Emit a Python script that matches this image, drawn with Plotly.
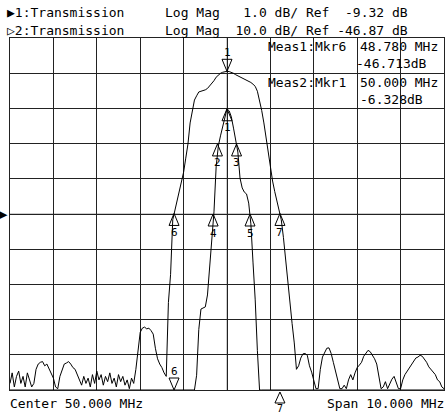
import numpy as np
import plotly.graph_objects as go

# ---------------- instrument settings ----------------
CENTER_MHZ = 50.0
SPAN_MHZ = 10.0
SWEEP_POINTS = 201
DIVS = 10

T1_NAME, T2_NAME = "Transmission", "Transmission"
T1_SCALE, T1_REF = 1.0, -9.32     # dB/div, dB (ref at centre line)
T2_SCALE, T2_REF = 10.0, -46.87

# ---------------- trace 2 (10 dB/div), one value per sweep point ----------------
T2_LEVELS = [
    -95.0, -92.0, -96.0, -93.0, -91.5, -95.0, -93.0, -96.0, -92.0, -94.0,
    -96.0, -95.0, -91.0, -89.5, -89.0, -88.8, -90.0, -89.5, -91.0, -92.0,
    -93.5, -96.0, -96.5, -93.0, -91.0, -89.5, -89.2, -88.8, -89.5, -90.5,
    -91.0, -92.5, -94.0, -95.5, -93.0, -95.0, -93.5, -96.0, -92.5, -95.0,
    -91.5, -94.0, -92.5, -95.5, -93.0, -94.5, -92.0, -95.0, -93.5, -96.0,
    -92.5, -94.5, -93.0, -95.5, -94.0, -96.5, -93.5, -95.0, -91.0, -85.0,
    -80.5, -79.3, -79.0, -79.5, -79.3, -80.0, -81.0, -85.0, -88.0, -89.5,
    -90.5, -92.0, -93.0, -72.0, -64.0, -48.5, -45.8, -43.0, -40.0, -37.8,
    -35.0, -31.0, -27.0, -21.0, -17.8, -14.5, -13.3, -12.2, -12.0, -11.9,
    -11.6, -11.2, -10.5, -9.7, -9.0, -8.0, -7.3, -6.9, -6.6, -6.4,
    -6.33, -6.4, -6.6, -6.9, -7.3, -7.6, -8.1, -8.4, -8.7, -8.9,
    -9.1, -9.5, -10.0, -10.6, -12.0, -14.5, -17.5, -21.0, -25.5, -30.0,
    -34.0, -37.5, -40.5, -43.0, -45.5, -48.5, -53.5, -60.0, -67.0, -72.0,
    -78.0, -83.5, -91.0, -90.0, -87.8, -86.6, -86.5, -87.0, -90.0, -91.8,
    -94.5, -96.5, -96.5, -91.0, -87.5, -86.3, -85.0, -84.9, -86.5, -89.0,
    -91.5, -94.5, -96.5, -96.5, -95.5, -96.5, -94.0, -92.5, -94.0, -92.0,
    -90.5, -89.8, -89.0, -87.3, -86.5, -85.6, -86.0, -87.0, -88.0, -89.5,
    -93.0, -96.5, -96.0, -94.5, -96.5, -95.0, -93.8, -93.0, -95.0, -96.5,
    -96.5, -94.0, -92.5, -91.5, -90.5, -89.5, -88.5, -87.8, -87.5, -87.0,
    -87.3, -88.0, -89.0, -90.3, -91.0, -92.0, -92.5, -94.0, -94.5, -96.0,
    -96.5,
]

# ---------------- trace 1 (1 dB/div) readings ----------------
T1_FREQS = [45.00, 49.20, 49.25, 49.30, 49.35, 49.40, 49.45, 49.50, 49.55, 49.60,
            49.65, 49.70, 49.75, 49.80, 49.85, 49.90, 49.95, 50.00, 50.05, 50.10,
            50.15, 50.20, 50.25, 50.30, 50.35, 50.40, 50.45, 50.50, 50.55, 50.60,
            50.65, 50.70, 50.75, 50.80, 55.00]
T1_LEVELS = [-95.0, -17.8, -14.5, -13.9, -12.6, -12.02, -12.0, -11.96, -11.62, -10.77,
             -10.12, -9.26, -7.98, -7.39, -7.10, -6.85, -6.56, -6.33, -6.39, -6.56,
             -6.88, -7.22, -7.56, -8.30, -8.58, -8.70, -8.75, -9.01, -9.60, -10.71,
             -11.76, -13.2, -14.6, -17.5, -96.5]

# markers: number -> (MHz, dB)
T1_MARKERS = {1: (50.00, -6.33), 2: (49.78, -7.33), 3: (50.22, -7.33),
              4: (49.68, -9.32), 5: (50.53, -9.32)}
T1_OFFSCALE_MARKERS = {6: 48.78, 7: 51.22}
T2_MARKERS = {1: (50.00, -6.33), 6: (48.78, -46.71), 7: (51.22, -46.71)}

MEAS1 = ("Meas1:Mkr6", "48.780 MHz", "-46.713dB")
MEAS2 = ("Meas2:Mkr1", "50.000 MHz", "-6.328dB")

# ---------------- build ----------------
f_start = CENTER_MHZ - SPAN_MHZ / 2
f_stop = CENTER_MHZ + SPAN_MHZ / 2
sweep = np.linspace(f_start, f_stop, SWEEP_POINTS)

t1_lo = T1_REF - DIVS / 2 * T1_SCALE
t1_hi = T1_REF + DIVS / 2 * T1_SCALE
t2_lo = T2_REF - DIVS / 2 * T2_SCALE
t2_hi = T2_REF + DIVS / 2 * T2_SCALE

# the analyser pins off-screen values to the graticule edge
t1_disp = np.clip(np.array(T1_LEVELS), t1_lo, t1_hi)

FONT = "DejaVu Sans Mono"
INK = "#000000"

fig = go.Figure()
fig.add_trace(go.Scatter(x=sweep, y=T2_LEVELS, yaxis="y2", mode="lines",
                         line=dict(color=INK, width=1), hoverinfo="skip"))
fig.add_trace(go.Scatter(x=T1_FREQS, y=t1_disp, yaxis="y", mode="lines",
                         line=dict(color=INK, width=1), hoverinfo="skip", cliponaxis=False))

shapes = []
annotations = []

UP = "M0,0 L-5,-12 L5,-12 Z"      # tip at anchor, body below
DOWN = "M0,0 L-5,12 L5,12 Z"      # tip at anchor, body above
UP_BELOW = "M0,-2 L-5,-13 L5,-13 Z"


def marker(f, v, yref, path, num, shift):
    shapes.append(dict(type="path", xref="x", yref=yref, xsizemode="pixel",
                       ysizemode="pixel", xanchor=f, yanchor=v, path=path,
                       line=dict(color=INK, width=1), fillcolor="rgba(0,0,0,0)",
                       layer="above"))
    annotations.append(dict(x=f, y=v, xref="x", yref=yref, text=str(num),
                            showarrow=False, yshift=shift,
                            font=dict(family=FONT, size=11, color=INK)))


for n, (f, v) in T1_MARKERS.items():
    marker(f, v, "y", UP, n, -19)
marker(T1_OFFSCALE_MARKERS[6], t1_lo, "y", DOWN, 6, 19)
for n, (f, v) in T2_MARKERS.items():
    if n == 1:
        marker(f, v, "y2", DOWN, n, 19)
    else:
        marker(f, v, "y2", UP, n, -19)

# trace-1 marker 7 is drawn just below the graticule (outside the plot area)
m7x = (T1_OFFSCALE_MARKERS[7] - f_start) / SPAN_MHZ
shapes.append(dict(type="path", xref="paper", yref="paper", xsizemode="pixel",
                   ysizemode="pixel", xanchor=m7x, yanchor=0, path=UP_BELOW,
                   line=dict(color=INK, width=1), fillcolor="rgba(0,0,0,0)"))
annotations.append(dict(x=m7x, y=0, xref="paper", yref="paper", text="7",
                        showarrow=False, yanchor="top", yshift=-11,
                        font=dict(family=FONT, size=10, color=INK)))

# centre cross in grey
shapes.append(dict(type="line", xref="x", yref="paper", x0=CENTER_MHZ, x1=CENTER_MHZ,
                   y0=0, y1=1, line=dict(color="#9a9a9a", width=1), layer="between"))
shapes.append(dict(type="line", xref="paper", yref="y", x0=0, x1=1, y0=T1_REF, y1=T1_REF,
                   line=dict(color="#9a9a9a", width=1), layer="between"))

# ---------------- text ----------------
L, R, T, B = 10, 444, 38, 390


def txt(s, px, py, anchor="left", size=13):
    annotations.append(dict(text=s, x=(px - L) / (R - L), y=(B - py) / (B - T),
                            xref="paper", yref="paper", xanchor=anchor, yanchor="middle",
                            showarrow=False, font=dict(family=FONT, size=size, color=INK)))


txt(f"\u25b61:{T1_NAME}", 5, 13)
txt(f"\u25b72:{T2_NAME}", 5, 30)
txt(f"Log Mag  {T1_SCALE:4.1f} dB/ Ref {T1_REF:6.2f} dB", 163, 13)
txt(f"Log Mag  {T2_SCALE:4.1f} dB/ Ref {T2_REF:6.2f} dB", 163, 30)
txt(f"Center {CENTER_MHZ:.3f} MHz", 8, 403)
txt(f"Span {SPAN_MHZ:.3f} MHz", 446, 403, anchor="right")

txt(MEAS1[0], 266, 47)
txt(MEAS1[1], 358, 47)
txt(MEAS1[2], 354, 63)
txt(MEAS2[0], 266, 83)
txt(MEAS2[1], 358, 83)
txt(MEAS2[2], 358, 99)

# reference-position arrow on the left edge
annotations.append(dict(text="\u25b6", x=0, y=0.5, xref="paper", yref="paper",
                        xanchor="right", yanchor="middle", xshift=0, showarrow=False,
                        font=dict(family="DejaVu Sans", size=11, color=INK)))

grid = "#222222"
fig.update_layout(
    width=448, height=413,
    margin=dict(l=L, r=448 - R, t=T, b=413 - B),
    paper_bgcolor="white", plot_bgcolor="white",
    showlegend=False,
    xaxis=dict(range=[f_start, f_stop], tick0=f_start, dtick=SPAN_MHZ / DIVS,
               showgrid=True, gridcolor=grid, gridwidth=1, showticklabels=False,
               ticks="", zeroline=False, showline=True, mirror=True,
               linecolor=grid, linewidth=1, fixedrange=True),
    yaxis=dict(range=[t1_lo, t1_hi], tick0=t1_lo, dtick=T1_SCALE,
               showgrid=True, gridcolor=grid, gridwidth=1, showticklabels=False,
               ticks="", zeroline=False, showline=True, mirror=True,
               linecolor=grid, linewidth=1, fixedrange=True),
    yaxis2=dict(range=[t2_lo, t2_hi], overlaying="y", side="right", visible=False,
                showgrid=False, zeroline=False, fixedrange=True),
    shapes=shapes,
    annotations=annotations,
)

fig.write_html("out.html", config={"displayModeBar": False},
               post_script="document.body.style.margin='0';document.body.style.overflow='hidden';")
